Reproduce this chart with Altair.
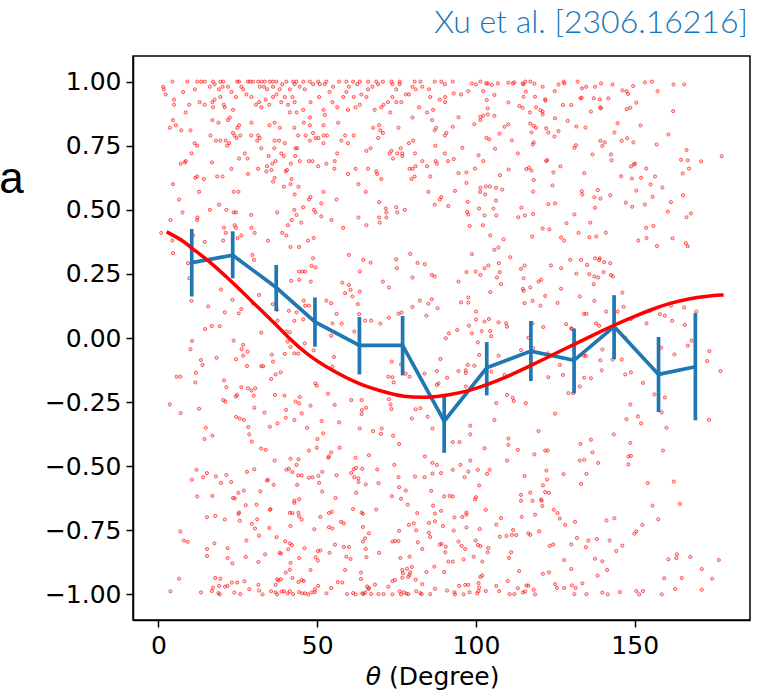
import altair as alt
import pandas as pd

# ---------------- data ----------------
# scatter points sitting on the a = 1.00 band
band_top_theta = [4.4, 9.1, 12.2, 13.5, 14.6, 17.2, 19.5, 20.4, 24.8, 25.4, 28.2, 28.9, 29.8, 31.4,
                  32.4, 33.5, 35.1, 36.1, 37.2, 40.3, 42.4, 43.5, 45.6, 47.7, 50.3, 52.9, 56.9, 59.2,
                  61.3, 63.4, 66.0, 68.6, 70.7, 73.4, 76.0, 80.7, 82.5, 87.0, 89.1, 92.7, 101.4,
                  115.5, 117.1, 127.6, 132.0, 155.4]

upper_left = [
    (1.5, 0.98), (1.7, 0.97), (7.8, 0.96), (11.5, 0.97), (16.2, 0.98), (17.7, 0.99), (19.1, 0.97),
    (20.2, 0.98), (21.9, 0.98), (23.0, 0.96), (26.1, 0.98), (26.7, 0.97), (27.7, 0.95), (31.9, 0.98),
    (33.2, 0.98), (34.2, 0.97), (36.1, 0.98), (38.2, 0.97), (39.0, 0.99), (41.4, 0.97), (42.9, 0.99),
    (44.5, 0.98), (46.1, 0.97), (48.7, 0.99), (50.8, 0.99), (52.4, 0.99), (53.9, 0.96), (55.0, 0.98),
    (59.2, 0.96), (60.0, 0.98), (62.6, 0.99), (63.9, 0.95), (66.0, 0.97), (67.4, 0.98), (69.2, 0.99),
    (73.7, 0.99), (74.9, 0.97), (76.0, 0.99), (77.9, 0.95), (78.9, 0.95), (80.0, 0.98), (81.0, 0.97),
    (83.1, 0.98), (85.2, 0.97), (90.2, 0.99),
    (2.3, 0.95), (4.9, 0.93), (4.9, 0.91), (9.7, 0.91), (8.6, 0.88), (13.0, 0.92), (14.6, 0.91),
    (17.0, 0.92), (17.7, 0.93), (17.2, 0.90), (19.5, 0.94), (20.6, 0.91), (20.9, 0.90), (23.5, 0.89),
    (24.4, 0.94), (29.3, 0.94), (30.7, 0.91), (31.7, 0.92), (32.4, 0.90), (33.8, 0.93), (34.9, 0.91),
    (36.1, 0.94), (37.2, 0.95), (38.7, 0.92), (39.8, 0.94), (40.8, 0.91), (41.4, 0.88), (42.2, 0.94),
    (42.9, 0.92), (43.5, 0.88), (45.6, 0.89), (47.9, 0.92), (50.6, 0.94), (52.0, 0.89), (52.4, 0.87),
    (54.8, 0.92), (56.3, 0.90), (58.2, 0.94), (59.7, 0.89), (61.5, 0.94), (62.1, 0.90), (63.4, 0.91),
    (65.5, 0.94), (68.1, 0.89), (70.2, 0.90), (70.9, 0.91), (72.3, 0.92), (73.0, 0.88), (73.7, 0.94),
    (74.9, 0.92), (76.5, 0.92), (82.1, 0.90), (84.6, 0.88), (85.6, 0.94), (86.5, 0.89), (88.6, 0.93),
    (90.3, 0.94), (90.3, 0.92),
    (4.6, 0.85), (5.5, 0.83), (3.6, 0.82), (7.2, 0.81), (10.1, 0.81), (10.4, 0.72), (11.4, 0.76),
    (12.2, 0.75), (17.0, 0.85), (18.9, 0.84), (16.4, 0.79), (18.1, 0.77), (19.5, 0.77), (21.2, 0.77),
    (22.5, 0.86), (21.9, 0.85), (21.6, 0.75), (22.3, 0.76), (23.5, 0.80), (24.0, 0.79), (24.8, 0.82),
    (25.4, 0.83), (24.6, 0.78), (25.8, 0.79), (27.2, 0.72), (29.3, 0.84), (29.2, 0.79), (31.4, 0.79),
    (31.9, 0.78), (31.1, 0.77), (32.4, 0.74), (35.0, 0.83), (36.6, 0.84), (38.2, 0.82), (36.6, 0.77),
    (38.0, 0.77), (39.8, 0.76), (36.5, 0.74), (42.8, 0.82), (43.2, 0.74), (44.0, 0.79), (45.8, 0.84),
    (46.4, 0.79), (47.7, 0.86), (47.7, 0.83), (47.7, 0.77), (48.7, 0.80), (49.5, 0.78), (50.4, 0.78),
    (52.0, 0.83), (52.0, 0.79), (52.0, 0.76), (53.1, 0.79), (56.6, 0.84), (57.6, 0.77), (58.8, 0.79),
    (59.7, 0.76), (61.5, 0.79), (65.5, 0.73), (66.8, 0.74), (67.6, 0.82), (69.5, 0.83), (69.2, 0.78),
    (69.9, 0.81), (70.7, 0.80), (73.4, 0.73), (75.6, 0.82), (76.3, 0.74), (78.9, 0.76), (80.2, 0.77),
    (80.0, 0.86), (86.2, 0.85), (87.0, 0.81), (87.5, 0.82), (87.2, 0.75), (90.2, 0.79), (90.7, 0.80),
]

middle_upper_left = [
    (8.6, 0.69), (8.3, 0.685), (7.0, 0.68), (16.9, 0.685), (23.0, 0.66), (25.4, 0.70), (28.1, 0.70),
    (28.2, 0.64), (31.4, 0.66), (34.2, 0.67), (35.9, 0.68), (35.6, 0.655), (34.0, 0.65), (36.9, 0.69),
    (34.7, 0.71), (38.7, 0.72), (39.5, 0.71), (40.1, 0.65), (40.5, 0.655), (41.7, 0.68), (43.1, 0.71),
    (44.5, 0.69), (43.7, 0.74), (47.4, 0.69), (48.5, 0.69), (50.3, 0.67), (52.9, 0.68), (55.5, 0.69),
    (56.3, 0.72), (55.4, 0.66), (59.7, 0.64), (62.1, 0.66), (66.0, 0.66), (68.6, 0.65), (68.9, 0.64),
    (70.2, 0.62), (72.8, 0.72), (73.9, 0.70), (75.2, 0.72), (76.8, 0.72), (76.8, 0.71), (79.1, 0.66),
    (80.0, 0.66), (80.8, 0.72), (81.0, 0.67), (83.1, 0.69), (84.6, 0.67), (87.3, 0.69), (87.7, 0.68),
    (90.2, 0.72), (91.2, 0.69), (80.7, 0.63), (79.7, 0.62), (85.6, 0.63), (11.6, 0.625), (12.2, 0.63),
    (14.3, 0.62), (18.5, 0.63), (20.2, 0.63), (4.6, 0.60), (12.8, 0.57), (23.7, 0.57), (25.2, 0.57),
    (36.1, 0.61), (36.6, 0.625), (41.9, 0.62), (41.6, 0.60), (39.5, 0.59), (44.1, 0.59), (42.9, 0.56),
    (52.0, 0.57), (63.0, 0.60), (65.3, 0.57), (85.0, 0.57), (89.1, 0.55), (88.6, 0.54),
    (6.5, 0.54), (19.1, 0.52), (16.2, 0.50), (7.6, 0.49), (3.8, 0.46), (12.2, 0.46), (21.4, 0.50),
    (23.7, 0.49), (24.4, 0.49), (29.2, 0.48), (24.0, 0.44), (20.6, 0.43), (24.4, 0.43), (21.2, 0.41),
    (20.4, 0.38), (14.6, 0.375), (4.4, 0.38), (0.9, 0.41), (29.3, 0.43), (30.3, 0.41), (34.5, 0.38),
    (37.4, 0.49), (39.0, 0.41), (40.3, 0.40), (40.8, 0.44), (42.0, 0.46), (42.8, 0.50), (43.5, 0.48),
    (45.0, 0.45), (45.6, 0.51), (47.4, 0.54), (47.9, 0.55), (49.0, 0.50), (49.5, 0.49), (51.3, 0.525),
    (51.3, 0.475), (54.5, 0.46), (56.1, 0.54), (58.2, 0.43), (63.0, 0.47), (65.5, 0.44), (69.5, 0.53),
    (69.5, 0.47), (69.7, 0.45), (71.6, 0.505), (71.8, 0.49), (71.8, 0.47), (74.9, 0.51), (75.2, 0.49),
    (77.6, 0.50), (87.0, 0.52), (91.3, 0.515), (47.1, 0.38), (48.9, 0.39), (44.3, 0.355), (41.6, 0.355),
    (26.1, 0.40), (24.9, 0.39), (10.9, 0.40), (12.3, 0.47),
]

upper_right = [
    (98.7, 0.993), (100.0, 0.989), (103.2, 0.993), (103.7, 0.993), (105.0, 0.987), (106.9, 0.993),
    (110.2, 0.996), (111.6, 0.993), (112.1, 0.997), (114.7, 0.993), (115.0, 0.989), (118.4, 0.992),
    (121.0, 0.98), (126.0, 0.989), (127.8, 0.993), (133.4, 0.974), (134.7, 0.98), (137.5, 0.98),
    (139.4, 0.993), (143.0, 0.989), (146.1, 0.966), (147.4, 0.963), (147.9, 0.952), (149.5, 0.983),
    (153.2, 0.997), (157.2, 0.963), (162.2, 0.989), (165.6, 0.989),
    (93.0, 0.954), (95.3, 0.95), (97.6, 0.963), (102.3, 0.963), (103.4, 0.928), (105.8, 0.948),
    (110.2, 0.919), (103.7, 0.896), (103.7, 0.872), (101.4, 0.863), (102.3, 0.867), (105.8, 0.867),
    (94.5, 0.861), (92.7, 0.824), (99.5, 0.834), (101.4, 0.85), (109.0, 0.824), (110.2, 0.833),
    (113.7, 0.905), (114.7, 0.898), (115.0, 0.941), (115.7, 0.961), (117.0, 0.88), (118.6, 0.941),
    (118.9, 0.90), (120.3, 0.889), (121.0, 0.883), (121.0, 0.872), (121.8, 0.931), (121.9, 0.926),
    (117.1, 0.836), (118.2, 0.828), (118.9, 0.82), (124.8, 0.963), (124.9, 0.857), (127.4, 0.909),
    (130.0, 0.909), (128.9, 0.847), (131.6, 0.825), (132.9, 0.935), (133.3, 0.937), (134.5, 0.821),
    (136.2, 0.883), (137.1, 0.935), (139.0, 0.931), (139.1, 0.90), (139.4, 0.896), (141.7, 0.935),
    (144.6, 0.838), (147.5, 0.893), (148.6, 0.898), (150.5, 0.918), (151.8, 0.829), (160.6, 0.794),
    (162.1, 0.885), (122.1, 0.818), (122.8, 0.802), (126.0, 0.807), (124.7, 0.786), (117.5, 0.802),
    (107.4, 0.797), (111.3, 0.771), (103.3, 0.781), (104.2, 0.775), (95.7, 0.742), (106.0, 0.738),
    (113.2, 0.72),
    (118.2, 0.763), (117.9, 0.755), (122.1, 0.69), (122.4, 0.694), (126.6, 0.67), (124.4, 0.646),
    (131.0, 0.742), (131.5, 0.752), (136.7, 0.716), (139.2, 0.769), (140.6, 0.763), (139.8, 0.749),
    (142.5, 0.716), (142.7, 0.693), (143.6, 0.802), (145.9, 0.769), (147.6, 0.779), (149.6, 0.763),
    (156.9, 0.755), (166.3, 0.733), (164.6, 0.695), (166.7, 0.693), (167.1, 0.661), (165.1, 0.642),
    (170.9, 0.689), (177.4, 0.709), (148.8, 0.669), (149.7, 0.677), (150.1, 0.68), (153.6, 0.661),
    (156.4, 0.63), (152.0, 0.625), (149.1, 0.622), (145.7, 0.631), (134.1, 0.643), (133.3, 0.573),
    (133.5, 0.56), (138.4, 0.577), (137.3, 0.549), (139.2, 0.544), (142.3, 0.557), (150.5, 0.575),
    (155.0, 0.599), (158.7, 0.587), (155.6, 0.551), (147.2, 0.528), (149.2, 0.512), (153.2, 0.521),
    (161.4, 0.53), (165.2, 0.557), (160.4, 0.493), (167.7, 0.486), (166.3, 0.471), (93.0, 0.698),
    (94.5, 0.643), (97.0, 0.646), (99.7, 0.661), (100.8, 0.713), (102.3, 0.69), (107.6, 0.635),
    (110.3, 0.657), (115.9, 0.659), (116.7, 0.664), (117.5, 0.653), (118.2, 0.616), (118.0, 0.571),
    (124.1, 0.595), (101.4, 0.586), (101.3, 0.57), (103.1, 0.591), (104.4, 0.591), (106.3, 0.586),
    (108.3, 0.579), (102.9, 0.56), (106.3, 0.536), (93.4, 0.574), (97.0, 0.605), (97.4, 0.531),
    (97.2, 0.492), (97.6, 0.482), (101.0, 0.505), (102.7, 0.478), (105.5, 0.505), (106.4, 0.478),
    (114.3, 0.508), (115.4, 0.478), (118.0, 0.484), (113.3, 0.471), (122.8, 0.522), (124.9, 0.525),
    (131.0, 0.482), (136.0, 0.45), (137.5, 0.508), (98.0, 0.437), (102.2, 0.44), (104.5, 0.40),
    (108.7, 0.385), (107.1, 0.353), (117.7, 0.396), (121.0, 0.427), (123.1, 0.424), (126.8, 0.392),
    (127.8, 0.38), (128.5, 0.448), (132.3, 0.41), (135.7, 0.393), (137.9, 0.396), (140.9, 0.411),
    (151.1, 0.38), (153.6, 0.43), (153.7, 0.39), (155.9, 0.437), (157.0, 0.359), (161.9, 0.389),
    (166.1, 0.37), (166.7, 0.358),
]

centre_left = [
    (4.6, 0.331), (9.3, 0.292), (9.7, 0.233), (10.4, 0.145), (15.7, 0.123), (19.7, 0.189), (23.3, 0.149),
    (26.1, 0.113), (25.3, 0.096), (20.9, 0.10), (14.7, 0.035), (16.8, 0.047), (19.3, 0.046),
    (10.6, -0.011), (10.1, -0.044), (23.7, -0.01), (26.7, -0.027), (26.2, -0.044), (28.1, -0.053),
    (26.7, -0.069), (24.4, -0.083), (27.9, -0.109), (18.3, -0.077), (13.4, -0.086), (13.9, -0.105),
    (5.7, -0.151), (6.9, -0.151), (11.8, -0.136), (11.6, -0.173), (20.7, -0.165), (21.4, -0.192),
    (3.6, -0.259), (7.0, -0.293), (12.8, -0.276), (20.4, -0.242), (21.1, -0.248), (24.8, -0.222),
    (24.4, -0.228), (26.1, -0.192), (28.2, -0.196), (29.3, -0.205), (30.5, -0.196), (30.0, -0.225),
    (30.2, -0.272), (33.4, -0.291), (24.5, -0.308), (25.6, -0.314), (26.9, -0.319), (28.3, -0.347),
    (28.6, -0.376), (17.0, -0.381), (14.5, -0.394), (14.9, -0.35), (29.6, 0.324), (30.1, 0.305),
    (48.7, 0.311), (49.5, 0.275), (48.2, 0.281), (44.3, 0.259), (45.3, 0.259), (46.2, 0.259),
    (41.8, 0.223), (44.3, 0.227), (48.0, 0.22), (60.0, 0.324), (64.5, 0.305), (66.8, 0.294),
    (63.4, 0.259), (57.9, 0.216), (58.8, 0.175), (60.0, 0.207), (60.5, 0.188), (61.1, 0.162),
    (63.4, 0.181), (62.8, 0.132), (70.7, 0.22), (72.6, 0.197), (74.9, 0.307), (75.1, 0.272),
    (79.3, 0.328), (81.6, 0.293), (83.9, 0.288), (86.1, 0.246), (87.0, 0.24), (80.0, 0.236),
    (82.3, 0.146), (85.0, 0.134), (86.1, 0.151), (87.9, 0.116), (80.0, 0.121), (84.4, 0.087),
    (75.6, 0.095), (76.6, 0.099), (72.6, 0.079), (69.9, 0.056), (67.0, 0.068), (65.1, 0.068),
    (63.2, 0.093), (61.7, 0.025), (54.8, 0.057), (57.7, 0.056), (54.4, 0.009), (56.1, 0.094),
    (52.9, 0.146), (54.4, 0.136), (47.4, 0.126), (45.8, 0.146), (46.2, 0.126), (45.6, 0.073),
    (42.8, 0.067), (43.5, 0.10), (41.1, 0.106), (37.5, 0.068), (37.3, 0.11), (36.0, 0.132),
    (31.7, 0.168), (29.8, 0.136), (32.4, 0.021), (40.3, 0.025), (41.4, 0.022), (40.7, -0.014),
    (42.8, -0.06), (44.0, -0.061), (39.8, -0.062), (41.6, -0.035), (46.1, -0.021), (48.9, -0.048),
    (35.7, -0.065), (36.1, -0.092), (32.4, -0.11), (33.0, -0.11), (36.9, -0.142), (38.5, -0.134),
    (35.5, -0.16), (36.7, -0.222), (39.7, -0.225), (43.2, -0.248), (44.5, -0.23), (44.3, -0.255),
    (45.1, -0.294), (47.9, -0.264), (40.2, -0.28), (40.1, -0.311), (37.5, -0.333), (35.1, -0.346),
    (42.8, -0.32), (46.8, -0.35), (50.1, -0.394), (51.4, -0.324), (51.9, -0.372), (56.9, -0.329),
    (53.4, -0.217), (49.4, -0.177), (49.9, -0.186), (55.5, -0.261), (55.3, -0.074), (54.8, -0.112),
    (60.7, -0.242), (64.0, -0.242), (64.1, -0.281), (65.4, -0.272), (64.0, -0.297), (63.4, -0.353),
    (67.6, -0.363), (70.1, -0.374), (70.3, -0.353), (73.9, -0.381), (73.4, -0.277), (73.1, -0.259),
    (72.6, -0.239), (74.1, -0.173), (72.4, -0.151), (73.7, -0.153), (73.5, -0.092), (76.4, -0.103),
    (77.9, -0.139), (79.1, -0.151), (83.8, -0.139), (87.7, -0.129), (87.7, -0.183), (88.2, -0.177),
    (90.9, -0.155), (88.8, -0.082), (90.5, -0.001), (91.5, 0.018), (81.0, -0.278), (82.5, -0.274),
    (79.8, -0.314), (84.8, -0.307), (86.3, -0.353),
]

centre_right = [
    (98.7, 0.327), (105.8, 0.344), (110.8, 0.315), (103.9, 0.283), (102.7, 0.272), (107.2, 0.292),
    (107.5, 0.257), (106.6, 0.236), (107.9, 0.21), (104.5, 0.179), (101.4, 0.246), (99.9, 0.259),
    (97.0, 0.257), (94.5, 0.22), (114.2, 0.27), (115.3, 0.283), (115.0, 0.233), (114.8, 0.192),
    (115.0, 0.184), (117.1, 0.197), (119.7, 0.22), (120.5, 0.227), (121.8, 0.164), (123.6, 0.283),
    (126.8, 0.272), (126.8, 0.192), (129.7, 0.305), (133.1, 0.305), (131.6, 0.251), (135.0, 0.285),
    (135.7, 0.249), (137.3, 0.24), (138.5, 0.236), (137.5, 0.311), (139.0, 0.311), (138.8, 0.304),
    (140.2, 0.257), (140.4, 0.296), (142.3, 0.292), (142.5, 0.246), (143.1, 0.24), (137.1, 0.21),
    (132.7, 0.162), (137.3, 0.145), (134.0, 0.094), (134.8, 0.094), (141.0, 0.103), (144.6, 0.103),
    (146.1, 0.177), (137.8, 0.057), (138.8, 0.048), (130.0, 0.038), (128.4, 0.054), (125.7, 0.137),
    (120.3, 0.126), (117.8, 0.145), (115.3, 0.136), (109.5, 0.057), (109.8, 0.044), (107.1, 0.061),
    (104.1, 0.074), (102.7, 0.064), (100.0, 0.103), (100.0, 0.072), (97.6, 0.158), (97.6, 0.138),
    (95.3, 0.139), (94.1, 0.031), (97.8, 0.048), (98.7, 0.018), (101.8, 0.027), (104.5, 0.027),
    (104.8, 0.007), (100.6, -0.017), (101.0, -0.066), (97.4, -0.105), (99.5, -0.108), (96.8, -0.126),
    (96.8, -0.136), (94.5, -0.129), (96.8, -0.189), (104.8, -0.131), (107.1, -0.069), (109.0, -0.144),
    (109.8, -0.222), (111.6, -0.233), (111.9, -0.246), (106.4, -0.254), (105.8, -0.32), (98.2, -0.342),
    (98.2, -0.376), (110.2, -0.392), (119.7, -0.363), (115.7, -0.254), (114.2, -0.047), (116.5, 0.001),
    (118.0, -0.04), (117.8, 0.057), (121.2, 0.043), (122.6, -0.06), (122.8, -0.153), (124.9, -0.295),
    (126.4, -0.105), (127.4, -0.144), (129.1, -0.215), (130.6, -0.215), (132.7, -0.189), (134.1, -0.155),
    (136.2, -0.157), (139.2, -0.087), (139.6, -0.126), (143.0, -0.084), (145.9, -0.084), (147.0, 0.001),
    (147.0, -0.142), (148.8, -0.134), (139.8, -0.045), (134.0, -0.069), (134.6, -0.069), (130.2, 0.035),
    (152.6, -0.175), (148.6, -0.259), (147.4, -0.317), (151.0, -0.306), (152.0, -0.333), (156.2, -0.22),
    (159.5, -0.232), (158.5, -0.29), (160.0, -0.35), (153.7, 0.057), (154.9, 0.107), (157.9, 0.093),
    (159.5, 0.087), (161.4, 0.126), (161.8, 0.067), (165.6, 0.119), (165.8, 0.051), (169.4, 0.103),
    (166.7, -0.03), (167.9, -0.01), (162.5, -0.064), (158.3, -0.038), (172.8, -0.09), (173.5, -0.051),
    (177.0, -0.129), (173.4, -0.319), (148.8, 0.074), (143.4, -0.376), (136.2, -0.397), (146.5, 0.122),
]

lower_left = [
    (29.4, -0.404), (32.3, -0.431), (33.8, -0.436), (47.4, -0.439), (49.9, -0.428), (57.1, -0.428),
    (54.4, -0.446), (53.7, -0.462), (53.5, -0.467), (41.6, -0.471), (44.1, -0.473), (36.6, -0.478),
    (43.5, -0.495), (40.3, -0.514), (41.1, -0.51), (42.2, -0.523), (44.0, -0.536), (45.1, -0.536),
    (47.4, -0.545), (48.5, -0.543), (50.4, -0.538), (51.6, -0.522), (56.1, -0.535), (50.6, -0.565),
    (43.7, -0.573), (36.3, -0.573), (34.2, -0.556), (34.5, -0.553), (27.9, -0.522), (30.2, -0.512),
    (21.4, -0.534), (18.1, -0.54), (15.3, -0.527), (14.1, -0.543), (12.0, -0.514), (10.5, -0.553),
    (19.7, -0.565), (22.9, -0.562), (12.2, -0.618), (17.0, -0.616), (23.5, -0.624), (24.1, -0.626),
    (25.2, -0.604), (26.9, -0.595), (32.1, -0.598), (42.8, -0.634), (42.8, -0.643), (44.3, -0.629),
    (51.6, -0.599), (55.8, -0.624), (27.5, -0.652), (30.9, -0.65), (35.3, -0.668), (25.4, -0.681),
    (25.2, -0.686), (25.6, -0.713), (20.9, -0.708), (17.9, -0.694), (15.3, -0.699), (6.9, -0.755),
    (8.0, -0.79), (9.2, -0.795), (17.6, -0.801), (15.3, -0.823), (15.3, -0.85), (21.8, -0.82),
    (21.8, -0.858), (23.3, -0.879), (27.7, -0.79), (27.5, -0.854), (29.4, -0.725), (31.1, -0.707),
    (30.4, -0.743), (31.7, -0.771), (34.9, -0.741), (35.1, -0.67), (37.2, -0.777), (39.9, -0.793),
    (41.4, -0.801), (42.0, -0.808), (40.9, -0.824), (38.2, -0.838), (38.6, -0.841), (33.6, -0.844),
    (31.5, -0.874), (41.6, -0.733), (41.4, -0.682), (42.2, -0.683), (44.1, -0.682), (44.3, -0.696),
    (45.1, -0.708), (49.1, -0.746), (51.0, -0.698), (53.7, -0.683), (54.6, -0.678), (53.7, -0.738),
    (54.8, -0.743), (57.5, -0.717), (46.0, -0.82), (44.3, -0.858), (41.6, -0.877), (41.4, -0.904),
    (40.1, -0.915), (42.2, -0.936), (37.4, -0.941), (37.8, -0.946), (38.6, -0.941), (36.9, -0.963),
    (44.1, -0.952), (45.1, -0.944), (45.8, -0.948), (47.9, -0.905), (49.5, -0.855), (50.2, -0.831),
    (50.2, -0.868), (53.9, -0.838), (55.6, -0.806), (58.4, -0.815), (60.0, -0.815), (60.5, -0.862),
    (58.8, -0.905), (56.5, -0.952), (57.9, -0.954), (54.4, -0.975), (50.3, -0.967), (49.3, -0.98),
    (6.5, -0.939), (3.8, -0.988), (13.4, -0.992), (16.8, -0.987), (17.2, -0.974), (17.9, -0.936),
    (19.1, -0.967), (18.9, -0.995), (19.3, -1.0), (19.5, -0.939), (21.0, -0.97), (21.8, -0.967),
    (23.1, -0.954), (24.8, -0.954), (27.1, -0.949), (23.9, -0.993), (25.8, -0.999), (28.6, -0.98),
    (31.5, -0.963), (31.7, -0.985), (32.8, -1.0), (35.5, -0.988), (36.9, -0.992), (37.4, -1.0),
    (38.8, -0.989), (39.5, -0.988), (40.7, -0.996), (41.4, -0.988), (42.4, -0.999), (44.3, -0.991),
    (45.3, -0.996), (46.2, -0.996), (47.2, -1.0), (48.3, -0.992), (49.3, -0.991), (52.9, -0.996),
    (59.4, -0.999), (61.3, -0.995), (62.1, -1.0), (64.2, -0.996), (64.6, -0.999), (65.1, -0.993),
    (66.1, -0.979), (67.0, -0.999), (68.2, -0.962), (69.3, -0.999), (70.9, -0.999), (72.4, -0.97),
    (73.7, -0.948), (73.7, -1.0), (76.0, -0.988), (76.4, -1.0), (77.3, -0.992), (78.1, -0.997),
    (78.7, -0.999), (74.5, -0.944), (76.8, -0.935), (78.7, -0.932), (79.3, -0.914), (79.1, -0.924),
    (78.3, -0.90), (79.8, -0.893), (81.0, -0.943), (83.1, -0.96), (81.2, -0.988), (82.5, -0.995),
    (82.9, -0.999), (85.6, -0.999), (87.1, -0.978), (90.9, -0.985), (90.0, -0.913), (84.4, -0.913),
    (86.9, -0.892), (83.1, -0.823), (81.7, -0.797), (81.2, -0.75), (80.4, -0.723), (78.9, -0.729),
    (75.8, -0.752), (73.7, -0.794), (74.5, -0.792), (75.6, -0.792), (76.2, -0.858), (79.1, -0.853),
    (77.0, -0.917), (76.8, -0.905), (63.8, -0.915), (63.8, -0.94), (65.7, -0.969), (66.3, -0.975),
    (65.3, -0.823), (65.5, -0.855), (69.5, -0.838), (64.4, -0.794), (65.1, -0.781), (66.3, -0.762),
    (64.4, -0.737), (64.0, -0.681), (64.4, -0.686), (68.6, -0.669), (61.3, -0.667), (62.3, -0.604),
    (65.3, -0.571), (63.0, -0.562), (63.0, -0.547), (61.7, -0.543), (60.7, -0.527), (61.5, -0.512),
    (62.3, -0.506), (64.2, -0.51), (66.3, -0.457), (62.1, -0.467), (68.9, -0.513), (69.3, -0.566),
    (74.3, -0.495), (75.6, -0.543), (75.8, -0.582), (77.9, -0.595), (76.4, -0.627), (73.5, -0.617),
    (78.5, -0.65), (81.5, -0.683), (85.2, -0.721), (87.1, -0.685), (87.1, -0.715), (89.0, -0.674),
    (89.6, -0.733), (85.2, -0.76), (85.6, -0.776), (88.6, -0.806), (89.2, -0.803), (90.5, -0.814),
    (90.3, -0.836), (91.3, -0.872), (90.0, -0.618), (91.7, -0.616), (85.9, -0.596), (86.5, -0.654),
    (89.0, -0.527), (86.3, -0.529), (87.7, -0.495), (86.3, -0.487), (83.9, -0.462), (80.8, -0.54),
    (83.8, -0.543), (75.8, -0.413), (59.2, -0.853), (58.4, -0.723), (51.0, -0.829),
]

lower_right = [
    (92.7, -0.406), (94.8, -0.406), (102.7, -0.43), (110.2, -0.417), (113.2, -0.436), (118.4, -0.454),
    (121.8, -0.439), (122.6, -0.439), (132.9, -0.413), (148.6, -0.409), (136.7, -0.446), (132.7, -0.478),
    (134.1, -0.475), (138.5, -0.487), (148.0, -0.462), (148.8, -0.46), (148.0, -0.493), (158.9, -0.439),
    (98.2, -0.478), (95.1, -0.495), (92.7, -0.514), (97.6, -0.521), (96.4, -0.543), (100.6, -0.514),
    (103.5, -0.53), (104.3, -0.514), (109.8, -0.478), (115.3, -0.538), (122.2, -0.517), (122.4, -0.552),
    (127.6, -0.531), (134.8, -0.53), (133.1, -0.569), (121.1, -0.575), (101.0, -0.575), (92.7, -0.618),
    (100.0, -0.621), (99.7, -0.63), (114.2, -0.612), (114.2, -0.635), (117.1, -0.603), (117.8, -0.635),
    (121.8, -0.601), (123.0, -0.604), (120.5, -0.63), (120.7, -0.635), (120.9, -0.655), (154.1, -0.566),
    (162.3, -0.56), (155.6, -0.654), (164.2, -0.647), (103.1, -0.67), (107.9, -0.702), (114.4, -0.698),
    (118.6, -0.689), (124.5, -0.67), (125.7, -0.683), (126.4, -0.704), (128.1, -0.729), (131.2, -0.717),
    (141.1, -0.712), (143.6, -0.703), (157.4, -0.707), (152.4, -0.729), (150.5, -0.754), (149.9, -0.763),
    (93.2, -0.70), (95.7, -0.698), (97.0, -0.681), (97.0, -0.689), (97.0, -0.739), (93.0, -0.751),
    (101.2, -0.745), (106.4, -0.728), (111.7, -0.749), (111.3, -0.768), (112.7, -0.769), (109.6, -0.772),
    (107.5, -0.775), (116.5, -0.762), (117.1, -0.768), (119.9, -0.754), (94.5, -0.794), (99.9, -0.79),
    (100.6, -0.807), (101.4, -0.812), (95.5, -0.811), (96.6, -0.823), (103.9, -0.819), (103.7, -0.836),
    (111.1, -0.836), (110.4, -0.858), (99.3, -0.853), (96.1, -0.864), (92.7, -0.872), (102.0, -0.872),
    (123.2, -0.811), (124.3, -0.805), (130.0, -0.805), (131.8, -0.78), (135.4, -0.79), (138.1, -0.784),
    (142.1, -0.79), (134.6, -0.816), (146.1, -0.81), (144.2, -0.831), (137.5, -0.861), (139.8, -0.871),
    (127.8, -0.866), (141.3, -0.905), (138.3, -0.927), (130.0, -0.901), (123.0, -0.914), (121.1, -0.92),
    (113.6, -0.909), (110.0, -0.948), (101.4, -0.932), (102.0, -0.926), (94.7, -0.967), (96.6, -0.963),
    (97.6, -0.963), (100.8, -0.956), (101.0, -0.973), (100.8, -0.987), (100.4, -0.996), (103.1, -0.987),
    (106.4, -0.967), (107.3, -0.987), (110.6, -0.999), (112.1, -0.999), (113.2, -0.976), (114.8, -0.992),
    (115.5, -0.989), (115.9, -0.965), (116.5, -0.966), (118.2, -0.982), (118.6, -1.0), (124.9, -0.96),
    (125.5, -0.975), (127.8, -0.975), (130.2, -0.965), (131.4, -0.975), (133.5, -0.957), (131.0, -0.999),
    (134.8, -0.999), (139.8, -0.993), (141.5, -1.0), (145.3, -0.991), (150.5, -0.987), (151.4, -1.0),
    (152.6, -0.987), (158.5, -1.0), (93.2, -0.992), (93.4, -1.0), (96.1, -1.0), (98.0, -0.992),
    (160.6, -0.863), (163.1, -0.859), (163.3, -0.844), (167.5, -0.854), (176.5, -0.866), (171.1, -0.901),
    (159.3, -0.937), (164.8, -0.936), (162.7, -0.979), (171.1, -0.982), (174.4, -0.939),
]

# smooth red fit curve
fit_theta = [2.6, 7.9, 10.4, 15.4, 23.5, 32.0, 37.2, 40.4, 46.7, 54.1, 63.4, 71.9, 77.0, 84.4, 91.7,
             98.1, 103.4, 110.0, 117.3, 124.0, 131.0, 137.5, 143.6, 150.0, 155.1, 161.0, 167.7,
             173.0, 178.0]
fit_a = [0.414, 0.379, 0.35, 0.307, 0.215, 0.112, 0.051, 0.008, -0.064, -0.123, -0.183, -0.213,
         -0.229, -0.234, -0.222, -0.205, -0.183, -0.15, -0.108, -0.066, -0.025, 0.015, 0.051, 0.085,
         0.11, 0.136, 0.155, 0.164, 0.168]

# binned means with error bars
bin_theta = [10.5, 23.4, 37.1, 49.3, 63.3, 76.9, 90.0, 103.4, 117.3, 130.9, 143.5, 157.5, 169.1]
bin_mean = [0.294, 0.323, 0.197, 0.063, -0.029, -0.029, -0.324, -0.116, -0.051, -0.087, 0.045, -0.142, -0.112]
bin_low = [0.162, 0.233, 0.105, -0.034, -0.142, -0.146, -0.448, -0.224, -0.168, -0.216, -0.083, -0.289, -0.321]
bin_high = [0.425, 0.416, 0.285, 0.158, 0.082, 0.086, -0.22, -0.016, 0.066, 0.037, 0.167, 0.004, 0.097]

y_ticks = [-1.0, -0.75, -0.5, -0.25, 0.0, 0.25, 0.5, 0.75, 1.0]
x_ticks = [0, 50, 100, 150]

title_text = ["Xu et al. [2306.16216]"]
xlabel_symbol = ["θ"]
xlabel_rest = ["(Degree)"]

# ---------------- tables ----------------
pairs = ([(t, 1.0) for t in band_top_theta] + upper_left + middle_upper_left + upper_right
         + centre_left + centre_right + lower_left + lower_right)
scatter_df = pd.DataFrame(pairs, columns=["theta", "a"])
fit_df = pd.DataFrame({"theta": fit_theta, "a": fit_a})
bin_df = pd.DataFrame({"theta": bin_theta, "a": bin_mean, "lo": bin_low, "hi": bin_high})

xscale = alt.Scale(domain=[-8, 186.3], nice=False, zero=False)
yscale = alt.Scale(domain=[-1.1, 1.1], nice=False, zero=False)

common_axis = dict(grid=False, domainColor="black", domainWidth=1.5, tickColor="black",
                   tickWidth=1.5, tickSize=7, labelColor="black", labelFont="DejaVu Sans",
                   labelFontSize=25, titleColor="black", titleFontWeight="normal")

xaxis = alt.Axis(values=x_ticks, format="d", title=None, labelPadding=6, **common_axis)
yaxis = alt.Axis(values=y_ticks, format=".2f", title="a", labelPadding=5, titleAngle=0,
                 titleX=-122, titleY=136, titleAlign="center", titleBaseline="alphabetic",
                 titleFont="Liberation Sans", titleFontSize=44, **common_axis)

X = alt.X("theta:Q", scale=xscale, axis=xaxis)
Y = alt.Y("a:Q", scale=yscale, axis=yaxis)

scatter = alt.Chart(scatter_df).mark_point(
    shape="circle", size=10, filled=False, stroke="red", strokeWidth=0.9, strokeOpacity=0.7,
    fill="red", fillOpacity=0.15, clip=True
).encode(x=X, y=Y)

bars = alt.Chart(bin_df).mark_rule(color="#1f77b4", strokeWidth=3.7).encode(
    x=X, y=alt.Y("lo:Q", scale=yscale, axis=yaxis), y2="hi:Q"
)
means = alt.Chart(bin_df).mark_line(color="#1f77b4", strokeWidth=3.7).encode(x=X, y=Y)

fit = alt.Chart(fit_df).mark_line(color="red", strokeWidth=3.5, interpolate="basis").encode(
    x=X, y=Y
)

# top-right citation and x-axis label (annotation texts)
citation = alt.Chart(pd.DataFrame({"t": title_text})).mark_text(
    align="right", baseline="alphabetic", font="Lato", fontSize=32, fontWeight=300,
    color="#1776ba"
).encode(text="t:N", x=alt.value(615), y=alt.value(-23))

xlab1 = alt.Chart(pd.DataFrame({"t": xlabel_symbol})).mark_text(
    align="right", baseline="alphabetic", font="DejaVu Sans", fontSize=25, fontStyle="italic",
    color="black"
).encode(text="t:N", x=alt.value(248), y=alt.value(629))

xlab2 = alt.Chart(pd.DataFrame({"t": xlabel_rest})).mark_text(
    align="left", baseline="alphabetic", font="DejaVu Sans", fontSize=25, color="black"
).encode(text="t:N", x=alt.value(256), y=alt.value(629))

chart = alt.layer(scatter, bars, means, fit, citation, xlab1, xlab2).properties(
    width=617,
    height=564,
    background="white",
    autosize=alt.AutoSizeParams(type="none"),
    padding={"left": 133, "top": 56, "right": 27, "bottom": 71},
).configure_view(stroke="black", strokeWidth=1.5)

chart.save("out.html", embed_options={"renderer": "svg", "actions": False})
